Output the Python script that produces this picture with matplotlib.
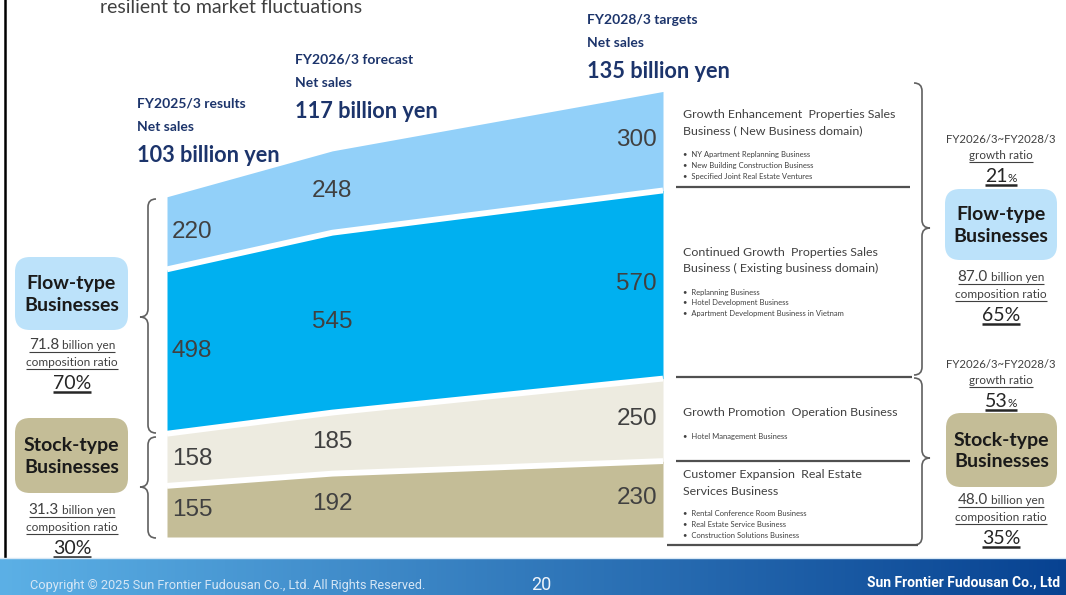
import numpy as np
import matplotlib
matplotlib.use("Agg")
import matplotlib.pyplot as plt
from matplotlib.patches import FancyBboxPatch, PathPatch
from matplotlib.path import Path

# ---- data (units: 100 million yen) ----
years = [2025, 2026, 2028]
customer_expansion = [155, 192, 230]
growth_promotion = [158, 185, 250]
continued_growth = [498, 545, 570]
growth_enhancement = [220, 248, 300]

period_labels = ["FY2025/3 results", "FY2026/3 forecast", "FY2028/3 targets"]
net_sales_billion = [103, 117, 135]

segment_titles = [
    ["Growth Enhancement  Properties Sales", "Business ( New Business domain)"],
    ["Continued Growth  Properties Sales", "Business ( Existing business domain)"],
    ["Growth Promotion  Operation Business"],
    ["Customer Expansion  Real Estate", "Services Business"],
]
segment_items = [
    ["NY Apartment Replanning Business", "New Building Construction Business",
     "Specified Joint Real Estate Ventures"],
    ["Replanning Business", "Hotel Development Business",
     "Apartment Development Business in Vietnam"],
    ["Hotel Management Business"],
    ["Rental Conference Room Business", "Real Estate Service Business",
     "Construction Solutions Business"],
]

flow_now = ["71.8", "70%"]
stock_now = ["31.3", "30%"]
flow_target = ["21", "87.0", "65%"]
stock_target = ["53", "48.0", "35%"]

# ---- styling ----
C_LIGHT = "#92D0F9"
C_BLUE = "#00B0F0"
C_BEIGE = "#EDEBE0"
C_TAN = "#C4BD97"
C_FLOWBOX = "#BCE2FA"
C_NAVY = "#1C346B"
C_TXT = "#404040"
BODY = ["Lato", "DejaVu Sans"]
NUM = ["Liberation Sans", "DejaVu Sans"]
FOOT = ["Roboto", "DejaVu Sans"]

W, H = 1066, 595
fig = plt.figure(figsize=(W / 100, H / 100), dpi=100)
ov = fig.add_axes([0, 0, 1, 1])
ov.set_xlim(0, W)
ov.set_ylim(H, 0)
ov.axis("off")
renderer = fig.canvas.get_renderer()

# ---- stacked area chart ----
x0px, x1px, ybot = 167, 663, 537
ymax = 1400
units_per_px = 3.03
hpx = ymax / units_per_px
ax = fig.add_axes([x0px / W, (H - ybot) / H, (x1px - x0px) / W, hpx / H])
ax.set_xlim(years[0], years[-1])
ax.set_ylim(0, ymax)
ax.axis("off")
ax.patch.set_alpha(0)

layers = [customer_expansion, growth_promotion, continued_growth, growth_enhancement]
colors = [C_TAN, C_BEIGE, C_BLUE, C_LIGHT]
base = np.zeros(len(years))
bounds = []
for vals, col in zip(layers, colors):
    v = np.array(vals, dtype=float)
    ax.fill_between(years, base, base + v, color=col, lw=0, zorder=1)
    bounds.append((base.copy(), v))
    base = base + v
    if len(bounds) < len(layers):
        ax.plot(years, base, color="white", lw=4.2, zorder=2, solid_capstyle="butt")

for (b, v) in bounds:
    for i, yr in enumerate(years):
        mid = b[i] + v[i] / 2
        if i == 0:
            ha, dx = "left", 5
        elif i == len(years) - 1:
            ha, dx = "right", -6
        else:
            ha, dx = "center", 0
        ax.annotate(f"{int(v[i])}", (yr, mid), xytext=(dx, 1), textcoords="offset pixels",
                    ha=ha, va="center", fontsize=17.5, color=C_TXT, family=NUM, zorder=3)

# ---- headers ----
hx = [137, 295, 587]
hy = [104, 60, 20]
for lab, val, x, y in zip(period_labels, net_sales_billion, hx, hy):
    ov.text(x, y, lab, fontsize=10, fontweight="bold", color=C_NAVY, family=BODY, va="center")
    ov.text(x, y + 23, "Net sales", fontsize=10, fontweight="bold", color=C_NAVY, family=BODY, va="center")
    ov.text(x, y + 52, f"{val} billion yen", fontsize=15.7, fontweight="bold", color=C_NAVY,
            family=BODY, va="center")

ov.text(100, 13, "resilient to market fluctuations", fontsize=14, color=C_TXT, family=BODY,
        va="baseline")

# ---- right-hand segment descriptions ----
title_y = [114, 252, 413, 475]
item_y = [155, 292, 437, 514]
for titles, items, ty, iy in zip(segment_titles, segment_items, title_y, item_y):
    for k, t in enumerate(titles):
        ov.text(683, ty + 16.5 * k, t, fontsize=8.9, color=C_TXT, family=BODY, va="center")
    for k, t in enumerate(items):
        ov.text(683, iy + 10.8 * k, "\u2022  " + t, fontsize=5.5, color=C_TXT, family=BODY, va="center")

for (xa, xb, y) in [(676, 910, 187), (676, 912, 377), (676, 910, 461), (667, 918, 545)]:
    ov.plot([xa, xb], [y, y], color="#505050", lw=1.6, solid_capstyle="butt")


# ---- braces ----
def brace(xs, y0, y1, ym, side, r=8, tip=8):
    s = 1 if side == "right" else -1
    verts = [(xs - s * r, y0), (xs, y0), (xs, y0 + r),
             (xs, ym - r), (xs, ym), (xs + s * tip, ym),
             (xs, ym), (xs, ym + r),
             (xs, y1 - r), (xs, y1), (xs - s * r, y1)]
    codes = [Path.MOVETO, Path.CURVE3, Path.CURVE3,
             Path.LINETO, Path.CURVE3, Path.CURVE3,
             Path.CURVE3, Path.CURVE3,
             Path.LINETO, Path.CURVE3, Path.CURVE3]
    ov.add_patch(PathPatch(Path(verts, codes), fill=False, ec="#606060", lw=1.2))


brace(922, 83, 375, 228, "right")
brace(922, 378, 545, 458, "right")
brace(148, 199, 433, 317, "left")
brace(148, 437, 538, 487, "left")


# ---- category boxes and ratio texts ----
def box(xa, ya, xb, yb, col, text):
    ov.add_patch(FancyBboxPatch((xa, ya), xb - xa, yb - ya, boxstyle="round,pad=0,rounding_size=15",
                                fc=col, ec="none"))
    ov.text((xa + xb) / 2, (ya + yb) / 2 + 1, text, ha="center", va="center", fontsize=14,
            fontweight="bold", color="#1A1A1A", family=BODY, linespacing=1.3)


def runs(xc, yb, pieces, color=C_TXT, ul=None, ul_off=3):
    objs, widths = [], []
    for s, size in pieces:
        t = ov.text(0, yb, s, fontsize=size, color=color, family=BODY, va="baseline", ha="left")
        widths.append(t.get_window_extent(renderer).width)
        objs.append(t)
    total = sum(widths)
    xs = xc - total / 2
    for t, w in zip(objs, widths):
        t.set_x(xs)
        xs += w
    if ul:
        ov.plot([xc - total / 2, xc + total / 2], [yb + ul_off] * 2, color=color, lw=ul,
                solid_capstyle="butt")


def ratio_block(xc, y, amount, pct):
    runs(xc, y, [(amount, 11), (" billion yen", 8.5)], ul=0.8, ul_off=2.5)
    runs(xc, y + 17, [("composition ratio", 8.6)], ul=0.8, ul_off=3)
    runs(xc, y + 40, [(pct, 14)], color="#262626", ul=1.8, ul_off=3)


def growth_block(xc, y, g):
    runs(xc, y, [("FY2026/3~FY2028/3", 8.2)])
    runs(xc, y + 16, [("growth ratio", 8.4)], ul=0.8, ul_off=3)
    runs(xc, y + 39, [(g, 14), ("%", 8.5)], color="#262626", ul=1.8, ul_off=3)


box(15, 257, 128, 330, C_FLOWBOX, "Flow-type\nBusinesses")
ratio_block(72, 349, flow_now[0], flow_now[1])
box(15, 418, 128, 493, C_TAN, "Stock-type\nBusinesses")
ratio_block(72, 514, stock_now[0], stock_now[1])

growth_block(1001, 143, flow_target[0])
box(945, 189, 1057, 260, C_FLOWBOX, "Flow-type\nBusinesses")
ratio_block(1001, 281, flow_target[1], flow_target[2])

growth_block(1001, 368, stock_target[0])
box(946, 413, 1057, 487, C_TAN, "Stock-type\nBusinesses")
ratio_block(1001, 504, stock_target[1], stock_target[2])

# ---- slide frame and footer ----
ov.plot([5, 5], [0, 557], color="black", lw=1.8)
grad = np.linspace(0, 1, 256)
c0 = np.array([0.36, 0.69, 0.90])
c1 = np.array([0.03, 0.26, 0.57])
img = (c0[None, :] * (1 - grad[:, None]) + c1[None, :] * grad[:, None])[None, :, :]
ov.imshow(img, extent=[0, W, 595, 558], aspect="auto", zorder=0.5)
ov.plot([0, W], [557.5, 557.5], color="#D8E8F5", lw=1)
ov.set_xlim(0, W)
ov.set_ylim(H, 0)
ov.text(30, 585, "Copyright \u00a9 2025 Sun Frontier Fudousan Co., Ltd. All Rights Reserved.",
        fontsize=9.2, color="#D5E6F5", family=FOOT, va="center")
ov.text(541, 585, "20", fontsize=13, color="#EEF4FA", family=FOOT,
        va="center", ha="center")
ov.text(1060, 583, "Sun Frontier Fudousan Co., Ltd", fontsize=10, fontweight="bold",
        color="white", family=FOOT, va="center", ha="right")

fig.savefig("out.png", dpi=100)
